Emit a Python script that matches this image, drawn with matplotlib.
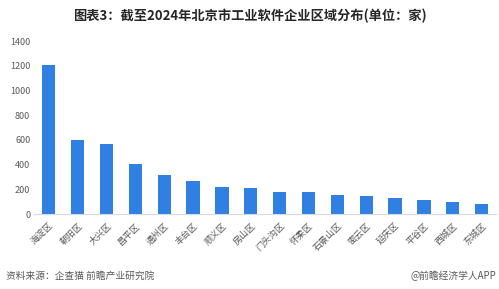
import matplotlib
matplotlib.use("Agg")
import matplotlib.pyplot as plt

plt.rcParams['font.family'] = ['Noto Sans CJK SC', 'DejaVu Sans']

districts = ["海淀区", "朝阳区", "大兴区", "昌平区", "通州区", "丰台区", "顺义区", "房山区",
             "门头沟区", "怀柔区", "石景山区", "密云区", "延庆区", "平谷区", "西城区", "东城区"]
counts = [1205, 600, 570, 407, 318, 267, 216, 208, 176, 176, 156, 148, 132, 116, 97, 79]
y_ticks = [0, 200, 400, 600, 800, 1000, 1200, 1400]

BAR_COLOR = "#2F80E2"
TEXT_GRAY = "#595959"

fig = plt.figure(figsize=(4.99, 2.89), dpi=100)
ax = fig.add_axes([0.069, 0.259, 0.925, 0.599])

x = range(len(districts))
ax.bar(x, counts, width=0.46, color=BAR_COLOR)

ax.set_xlim(-0.5, len(districts) - 0.5)
ax.set_ylim(0, 1400)
ax.set_yticks(y_ticks)
ax.set_yticklabels([str(v) for v in y_ticks], fontsize=6.5, color=TEXT_GRAY)
ax.set_xticks(list(x))
ax.set_xticklabels(districts, rotation=45, ha="right", rotation_mode="anchor",
                   fontsize=6.5, color=TEXT_GRAY)
ax.tick_params(axis="y", length=0, pad=3)
ax.tick_params(axis="x", length=0, pad=5)

for side in ["top", "right", "left"]:
    ax.spines[side].set_visible(False)
ax.spines["bottom"].set_color("#D9D9D9")
ax.spines["bottom"].set_linewidth(0.8)

fig.text(0.5, 0.945, "图表3：截至2024年北京市工业软件企业区域分布(单位：家)",
         ha="center", va="center", fontsize=9.5, fontweight="bold", color="#262626")
fig.text(0.012, 0.045, "资料来源：企查猫 前瞻产业研究院", ha="left", va="center",
         fontsize=7, color=TEXT_GRAY)
fig.text(0.995, 0.045, "@前瞻经济学人APP", ha="right", va="center",
         fontsize=7, color=TEXT_GRAY)

fig.savefig("out.png", dpi=100, facecolor="white")
